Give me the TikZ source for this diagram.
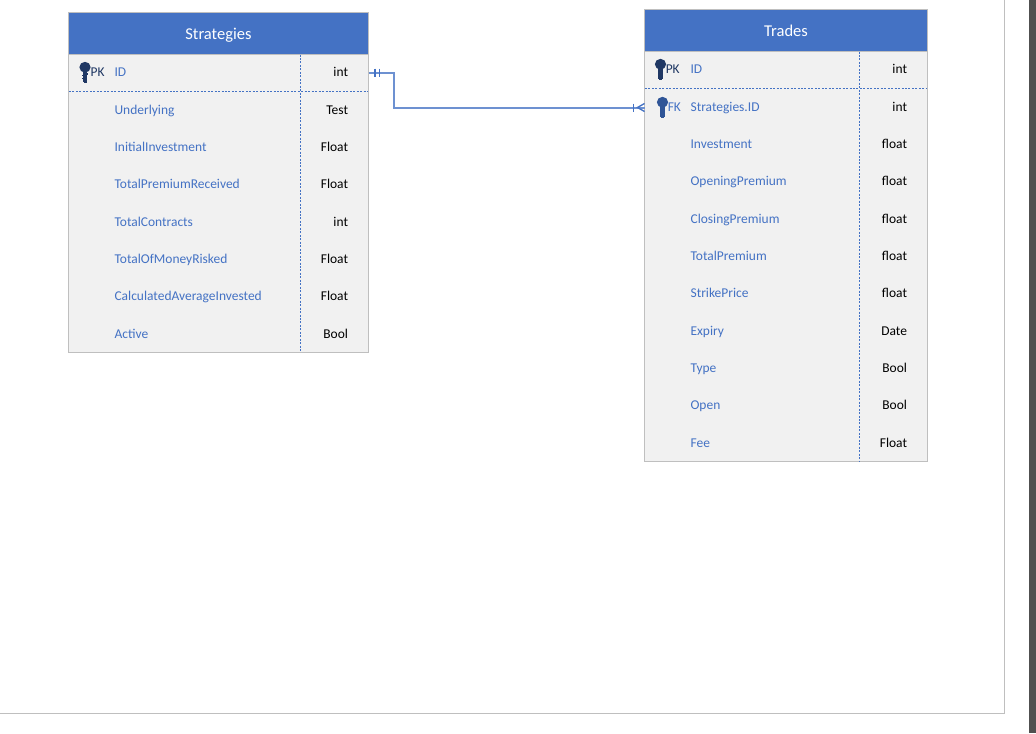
\documentclass[tikz,border=0pt]{standalone}
\usepackage{fontspec}
\setmainfont{Carlito}
\usetikzlibrary{calc}
\definecolor{hdr}{HTML}{4472C4}
\definecolor{bodyc}{HTML}{F1F1F1}
\definecolor{edge}{HTML}{BFBFBF}
\definecolor{keyc}{HTML}{203864}
\definecolor{keyf}{HTML}{2F5597}
\definecolor{barc}{HTML}{505050}
\colorlet{linkc}{hdr!78!white}
\tikzset{
  x=0.75pt,y=-0.75pt,
  tablebody/.style={draw=edge,line width=0.75pt,fill=bodyc,inner sep=0,outer sep=0,anchor=north west},
  tablehead/.style={draw=edge,line width=0.75pt,fill=hdr,inner sep=0,outer sep=0,anchor=north west,text=white,font=\fontsize{12.4pt}{14pt}\selectfont},
  fieldname/.style={inner sep=0,anchor=base west,text=hdr,font=\fontsize{10.1pt}{12pt}\selectfont},
  fieldtype/.style={inner sep=0,anchor=base east,text=black,font=\fontsize{10.1pt}{12pt}\selectfont},
  keytag/.style={inner sep=0,anchor=base west,font=\fontsize{10.1pt}{12pt}\selectfont},
  divider/.style={draw=hdr,line width=0.75pt,dash pattern=on 1.5pt off 1.1pt},
  link/.style={draw=linkc,line width=1.5pt},
  linktick/.style={draw=hdr,line width=1pt},
  keyglyph/.pic={
    \fill[pic actions] (5.5,5.2) ellipse [x radius=5.6,y radius=5.4];
    \fill[pic actions] (3.2,8) rectangle (7.8,19.5);
    \fill[pic actions] (2.6,12.5) rectangle (4,14);
    \fill[pic actions] (2.6,15.5) rectangle (4,17);
    \fill[pic actions] (7,11) rectangle (8.4,13);
    \fill[pic actions] (4.2,19) rectangle (7,21);
  }
}
\newcommand{\fieldrow}[5]{% x-name, x-type, y, name, type
  \node[fieldname] (#4) at (#1+0.3,#3+4.5) {#4};
  \node[fieldtype] (#4type) at (#2+0.3,#3+4.5) {#5};
}
\begin{document}
\begin{tikzpicture}
\useasboundingbox (0,0) rectangle (1036,733);
\fill[white] (0,0) rectangle (1036,733);
\draw[edge,line width=0.75pt] (1004.5,0) -- (1004.5,713.5) -- (0,713.5);
\fill[barc] (1029,0) rectangle (1036,733);

% Strategies
\node[tablebody,minimum width=225pt,minimum height=255pt] (sbody) at (68.5,12.5) {};
\node[tablehead,minimum width=225pt,minimum height=31.4pt] (shead) at (68.5,12.5) {\rule{0pt}{10.5pt}Strategies};
\draw[divider] (300.5,54.5) -- (300.5,352);
\draw[divider] (69,91.5) -- (368,91.5);
\path (79.5,62) pic[keyc] {keyglyph};
\node[keytag,text=keyc] (spk) at (90.3,76.5) {PK};
\fieldrow{114}{348}{72}{ID}{int}
\fieldrow{114}{348}{110}{Underlying}{Test}
\fieldrow{114}{348}{147}{InitialInvestment}{Float}
\fieldrow{114}{348}{184}{TotalPremiumReceived}{Float}
\fieldrow{114}{348}{222}{TotalContracts}{int}
\fieldrow{114}{348}{259}{TotalOfMoneyRisked}{Float}
\fieldrow{114}{348}{296}{CalculatedAverageInvested}{Float}
\fieldrow{114}{348}{334}{Active}{Bool}

% Trades
\node[tablebody,minimum width=212.25pt,minimum height=339pt] (tbody) at (644.5,9.5) {};
\node[tablehead,minimum width=212.25pt,minimum height=31.4pt] (thead) at (644.5,9.5) {Trades};
\draw[divider] (859.5,51.5) -- (859.5,461);
\draw[divider] (645,88.5) -- (927,88.5);
\path (655,59) pic[keyc] {keyglyph};
\node[keytag,text=keyc] (tpk) at (665.5,73.5) {PK};
\path (657,97) pic[keyf] {keyglyph};
\node[keytag,text=hdr] (tfk) at (667.5,111.5) {FK};
\node[fieldname] (TID) at (690.3,73.5) {ID};
\node[fieldtype] (TIDtype) at (907.3,73.5) {int};
\fieldrow{690}{907}{107}{Strategies.ID}{int}
\fieldrow{690}{907}{144}{Investment}{float}
\fieldrow{690}{907}{181}{OpeningPremium}{float}
\fieldrow{690}{907}{219}{ClosingPremium}{float}
\fieldrow{690}{907}{256}{TotalPremium}{float}
\fieldrow{690}{907}{293}{StrikePrice}{float}
\fieldrow{690}{907}{331}{Expiry}{Date}
\fieldrow{690}{907}{368}{Type}{Bool}
\fieldrow{690}{907}{405}{Open}{Bool}
\fieldrow{690}{907}{443}{Fee}{Float}

% connector
\coordinate (sport) at (sbody.north east |- 0,72.5);
\coordinate (tport) at (tbody.north west |- 0,107.5);
\coordinate (bend) at (393.5,90);
\draw[link] (sport) -| (bend) |- (tport);
\draw[linktick] ($(sport)+(6.5,-4)$) -- ($(sport)+(6.5,4)$);
\draw[linktick] ($(sport)+(11,-4)$) -- ($(sport)+(11,4)$);
\draw[linktick] ($(tport)+(-11,-4)$) -- ($(tport)+(-11,4)$);
\draw[linktick] ($(tport)+(0,-4)$) -- ($(tport)+(-7,0)$) -- ($(tport)+(0,4)$);
\end{tikzpicture}
\end{document}
